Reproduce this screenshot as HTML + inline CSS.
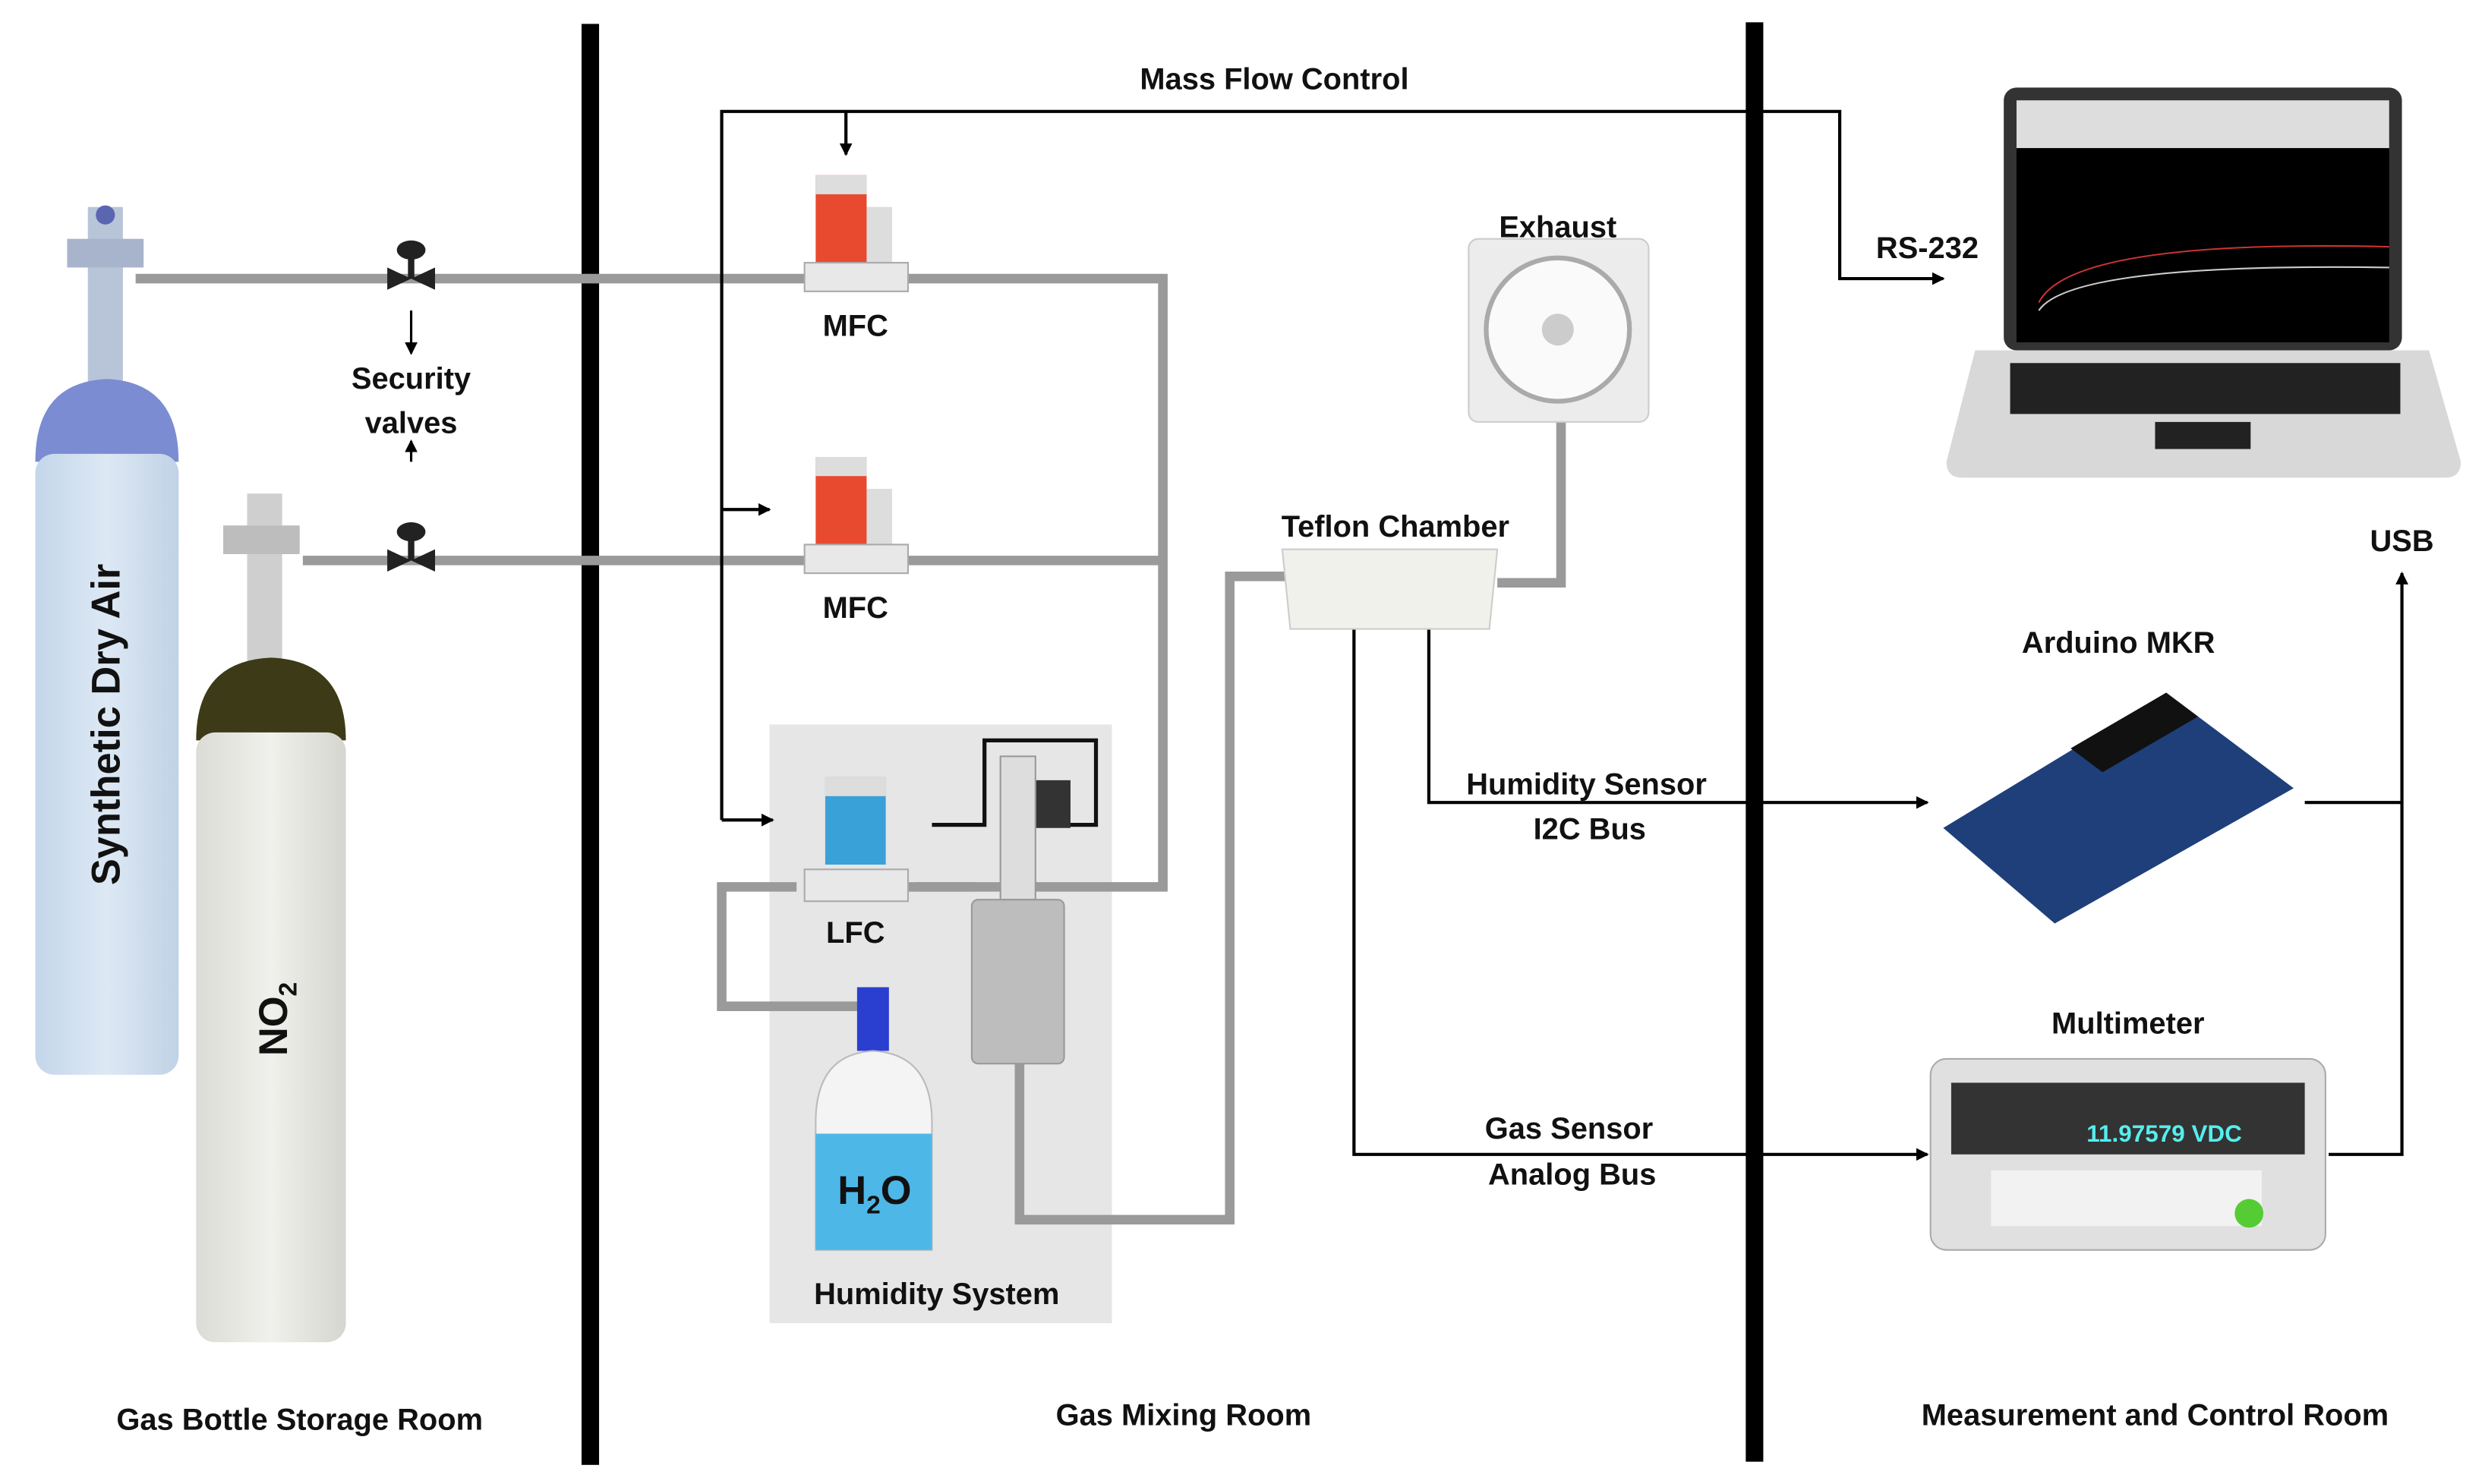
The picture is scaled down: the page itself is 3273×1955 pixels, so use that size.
<!DOCTYPE html>
<html><head><meta charset="utf-8"><style>
html,body{margin:0;padding:0;background:#fff}
svg{display:block}
text{font-family:"Liberation Sans",sans-serif;font-weight:bold;fill:#111}
</style></head><body>
<svg width="3273" height="1955" viewBox="0 0 1560 932" xmlns="http://www.w3.org/2000/svg">
<defs>
<marker id="a" markerWidth="8" markerHeight="8" refX="7" refY="4" orient="auto" markerUnits="userSpaceOnUse"><path d="M0,0 L8,4 L0,8z" fill="#000"/></marker>
<linearGradient id="cb" x1="0" x2="1"><stop offset="0" stop-color="#c4d6ea"/><stop offset=".5" stop-color="#dde8f4"/><stop offset="1" stop-color="#c0d2e6"/></linearGradient>
<linearGradient id="cg" x1="0" x2="1"><stop offset="0" stop-color="#dcdcd6"/><stop offset=".5" stop-color="#f0f0ec"/><stop offset="1" stop-color="#d6d6d0"/></linearGradient>
</defs>
<!-- room walls -->
<rect x="365" y="15" width="11" height="905" fill="#000"/>
<rect x="1096" y="14" width="11" height="904" fill="#000"/>
<!-- humidity box -->
<rect x="483" y="455" width="215" height="376" fill="#e6e6e6"/>
<!-- pipes -->
<g stroke="#9a9a9a" stroke-width="6" fill="none">
<path d="M85,175 H730 V557 H575"/>
<path d="M190,352 H730"/>
<path d="M500,557 H453 V632 H540"/>
<path d="M640,668 V766 H772 V362 H810"/>
<path d="M940,366 H980 V262"/>
<path d="M570,557 H612"/>
</g>
<!-- cylinders -->
<rect x="55" y="130" width="22" height="110" fill="#b8c4d8"/>
<rect x="42" y="150" width="48" height="18" fill="#a8b4cc"/>
<circle cx="66" cy="135" r="6" fill="#5a66b0"/>
<path d="M22,290 Q22,240 67,238 Q112,240 112,290 Z" fill="#7b8cd2"/>
<rect x="22" y="285" width="90" height="390" rx="12" fill="url(#cb)"/>
<text transform="translate(75,455) rotate(-90)" text-anchor="middle" font-size="25">Synthetic Dry Air</text>
<rect x="155" y="310" width="22" height="105" fill="#cfcfcf"/>
<rect x="140" y="330" width="48" height="18" fill="#bdbdbd"/>
<path d="M123,465 Q123,415 170,413 Q217,415 217,465 Z" fill="#3d3a18"/>
<rect x="123" y="460" width="94" height="383" rx="12" fill="url(#cg)"/>
<text transform="translate(180,640) rotate(-90)" text-anchor="middle" font-size="25">NO<tspan font-size="16" dy="6">2</tspan></text>
<!-- valves -->
<g fill="#222"><path d="M243,168 L258,175 L243,182z M273,168 L258,175 L273,182z"/><rect x="256" y="160" width="4" height="15"/><ellipse cx="258" cy="157" rx="9" ry="6"/>
<path d="M243,345 L258,352 L243,359z M273,345 L258,352 L273,359z"/><rect x="256" y="337" width="4" height="15"/><ellipse cx="258" cy="334" rx="9" ry="6"/></g>
<text x="258" y="244" text-anchor="middle" font-size="19">Security</text>
<text x="258" y="272" text-anchor="middle" font-size="19">valves</text>
<g stroke="#000" stroke-width="1.5" marker-end="url(#a)"><line x1="258" y1="195" x2="258" y2="222"/><line x1="258" y1="290" x2="258" y2="277"/></g>
<!-- MFCs -->
<g>
<rect x="512" y="110" width="32" height="55" fill="#e84a30"/><rect x="512" y="110" width="32" height="12" fill="#ddd"/><rect x="544" y="130" width="16" height="35" fill="#ddd"/><rect x="505" y="165" width="65" height="18" fill="#e8e8e8" stroke="#aaa"/>
<rect x="512" y="287" width="32" height="55" fill="#e84a30"/><rect x="512" y="287" width="32" height="12" fill="#ddd"/><rect x="544" y="307" width="16" height="35" fill="#ddd"/><rect x="505" y="342" width="65" height="18" fill="#e8e8e8" stroke="#aaa"/>
<rect x="518" y="488" width="38" height="55" fill="#3aa0d8"/><rect x="518" y="488" width="38" height="12" fill="#ddd"/><rect x="505" y="546" width="65" height="20" fill="#e8e8e8" stroke="#aaa"/>
</g>
<text x="537" y="211" text-anchor="middle" font-size="19">MFC</text>
<text x="537" y="388" text-anchor="middle" font-size="19">MFC</text>
<text x="537" y="592" text-anchor="middle" font-size="19">LFC</text>
<!-- humidifier -->
<path d="M585,518 H618 V465 H688 V518 H668" stroke="#111" stroke-width="2.5" fill="none"/>
<rect x="650" y="490" width="22" height="30" fill="#333"/>
<rect x="628" y="475" width="22" height="90" fill="#ddd" stroke="#999"/>
<rect x="610" y="565" width="58" height="103" rx="4" fill="#bdbdbd" stroke="#999"/>
<!-- H2O -->
<rect x="538" y="620" width="20" height="40" fill="#2a3fd0"/>
<path d="M512,705 Q512,662 548,660 Q585,662 585,705 V785 H512Z" fill="#f4f4f4" stroke="#bbb"/>
<path d="M512,712 H585 V785 H512Z" fill="#4db8e8"/>
<text x="549" y="756" text-anchor="middle" font-size="25">H<tspan font-size="16" dy="6">2</tspan><tspan dy="-6">O</tspan></text>
<text x="588" y="819" text-anchor="middle" font-size="19">Humidity System</text>
<!-- Mass flow control lines -->
<text x="800" y="56" text-anchor="middle" font-size="19">Mass Flow Control</text>
<g stroke="#000" stroke-width="2" fill="none">
<path d="M453,515 V70 H1155 V175 H1220" marker-end="url(#a)"/>
<path d="M531,70 V97" marker-end="url(#a)"/>
<path d="M453,320 H483" marker-end="url(#a)"/>
<path d="M453,515 H485" marker-end="url(#a)"/>
<path d="M850,395 V725 H1210" marker-end="url(#a)"/>
<path d="M897,395 V504 H1210" marker-end="url(#a)"/>
<path d="M1447,504 H1508"/>
<path d="M1462,725 H1508 V360" marker-end="url(#a)"/>
</g>
<text x="1210" y="162" text-anchor="middle" font-size="19">RS-232</text>
<!-- exhaust -->
<text x="978" y="149" text-anchor="middle" font-size="19">Exhaust</text>
<rect x="922" y="150" width="113" height="115" rx="6" fill="#ececec" stroke="#ccc"/>
<circle cx="978" cy="207" r="45" fill="#fafafa" stroke="#aaa" stroke-width="3"/>
<circle cx="978" cy="207" r="10" fill="#ccc"/>
<!-- teflon -->
<text x="876" y="337" text-anchor="middle" font-size="19">Teflon Chamber</text>
<path d="M805,345 H940 L935,395 H810Z" fill="#f1f1ec" stroke="#ccc"/>
<!-- sensor labels -->
<text x="996" y="499" text-anchor="middle" font-size="19">Humidity Sensor</text>
<text x="998" y="527" text-anchor="middle" font-size="19">I2C Bus</text>
<text x="985" y="715" text-anchor="middle" font-size="19">Gas Sensor</text>
<text x="987" y="744" text-anchor="middle" font-size="19">Analog Bus</text>
<!-- laptop -->
<rect x="1258" y="55" width="250" height="165" rx="8" fill="#333"/>
<rect x="1266" y="63" width="234" height="152" fill="#000"/>
<rect x="1266" y="63" width="234" height="30" fill="#ddd"/>
<path d="M1280,190 Q1300,150 1500,155" stroke="#c33" fill="none"/>
<path d="M1280,195 Q1300,165 1500,168" stroke="#ccc" fill="none"/>
<path d="M1240,220 H1525 L1545,290 Q1545,300 1535,300 H1232 Q1222,300 1222,290Z" fill="#d8d8d8"/>
<rect x="1262" y="228" width="245" height="32" fill="#222"/>
<rect x="1353" y="265" width="60" height="17" fill="#222"/>
<!-- arduino -->
<text x="1330" y="410" text-anchor="middle" font-size="19">Arduino MKR</text>
<path d="M1220,520 L1360,435 L1440,495 L1290,580Z" fill="#1f3f7a"/>
<path d="M1300,470 L1360,435 L1380,450 L1320,485Z" fill="#111"/>
<text x="1508" y="346" text-anchor="middle" font-size="19">USB</text>
<!-- multimeter -->
<text x="1336" y="649" text-anchor="middle" font-size="19">Multimeter</text>
<rect x="1212" y="665" width="248" height="120" rx="10" fill="#e0e0e0" stroke="#aaa"/>
<rect x="1225" y="680" width="222" height="45" fill="#333"/>
<text x="1310" y="717" font-size="15" fill="#4fd" style="fill:#5ee">11.97579  VDC</text>
<rect x="1250" y="735" width="170" height="35" fill="#f2f2f2"/>
<circle cx="1412" cy="762" r="9" fill="#5c3"/>
<!-- room labels -->
<text x="188" y="898" text-anchor="middle" font-size="19">Gas Bottle Storage Room</text>
<text x="743" y="895" text-anchor="middle" font-size="19">Gas Mixing Room</text>
<text x="1353" y="895" text-anchor="middle" font-size="19">Measurement and Control Room</text>
</svg>
</body></html>
